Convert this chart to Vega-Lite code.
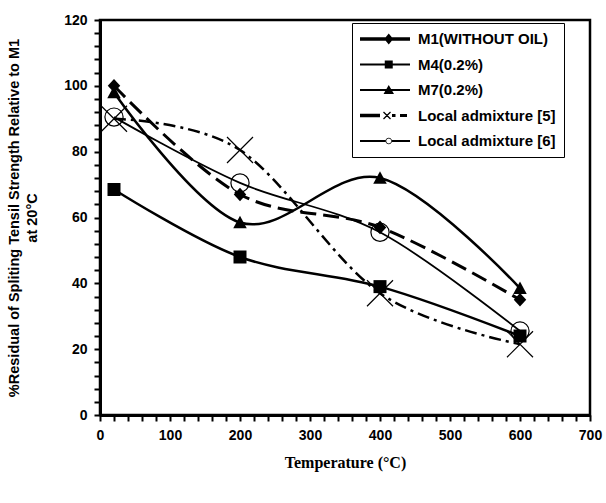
{
  "$schema": "https://vega.github.io/schema/vega-lite/v6.json",
  "width": 490,
  "height": 395,
  "autosize": {"type": "none"},
  "padding": {"left": 100, "top": 20, "right": 16, "bottom": 88},
  "background": "white",
  "config": {
    "view": {"stroke": "black", "strokeWidth": 2.5},
    "axis": {"grid": false, "ticks": true, "domainColor": "black", "domainWidth": 3, "tickColor": "black", "tickWidth": 2, "tickSize": 6, "labelColor": "black", "labelFont": "Liberation Sans", "labelFontWeight": "bold", "labelFontSize": 14, "labelOverlap": false, "labelFlush": false, "labelBound": false, "titleColor": "black"}
  },
  "data": {
    "values": [
      {"series": "M1(WITHOUT OIL)", "temp": 20, "value": 100},
      {"series": "M1(WITHOUT OIL)", "temp": 200, "value": 67},
      {"series": "M1(WITHOUT OIL)", "temp": 400, "value": 57},
      {"series": "M1(WITHOUT OIL)", "temp": 600, "value": 35},
      {"series": "M4(0.2%)", "temp": 20, "value": 68.5},
      {"series": "M4(0.2%)", "temp": 200, "value": 48},
      {"series": "M4(0.2%)", "temp": 400, "value": 39},
      {"series": "M4(0.2%)", "temp": 600, "value": 24},
      {"series": "M7(0.2%)", "temp": 20, "value": 98},
      {"series": "M7(0.2%)", "temp": 200, "value": 58.5},
      {"series": "M7(0.2%)", "temp": 400, "value": 72},
      {"series": "M7(0.2%)", "temp": 600, "value": 38.5},
      {"series": "Local admixture [5]", "temp": 20, "value": 90},
      {"series": "Local admixture [5]", "temp": 200, "value": 80.5},
      {"series": "Local admixture [5]", "temp": 400, "value": 37},
      {"series": "Local admixture [5]", "temp": 600, "value": 21.5},
      {"series": "Local admixture [6]", "temp": 20, "value": 90.5},
      {"series": "Local admixture [6]", "temp": 200, "value": 70.5},
      {"series": "Local admixture [6]", "temp": 400, "value": 55.5},
      {"series": "Local admixture [6]", "temp": 600, "value": 25.5}
    ]
  },
  "encoding": {
    "x": {
      "field": "temp", "type": "quantitative",
      "scale": {"domain": [0, 700], "nice": false, "zero": false},
      "axis": {
        "values": [0,20,40,60,80,100,120,140,160,180,200,220,240,260,280,300,320,340,360,380,400,420,440,460,480,500,520,540,560,580,600,620,640,660,680,700],
        "labelExpr": "datum.value % 100 === 0 ? datum.label : ''",
        "labelPadding": 7,
        "title": "Temperature (°C)",
        "titleFont": "Liberation Serif", "titleFontSize": 16, "titleFontWeight": "bold", "titlePadding": 12
      }
    },
    "y": {
      "field": "value", "type": "quantitative",
      "scale": {"domain": [0, 120], "nice": false},
      "axis": {
        "values": [0,4,8,12,16,20,24,28,32,36,40,44,48,52,56,60,64,68,72,76,80,84,88,92,96,100,104,108,112,116,120],
        "labelExpr": "datum.value % 20 === 0 ? datum.label : ''",
        "labelPadding": 7,
        "title": ["%Residual of Spliting Tensil Strength Relative to M1", "at 20°C"],
        "titleFont": "Liberation Sans", "titleFontSize": 14.5, "titleFontWeight": "bold", "titleLineHeight": 18, "titlePadding": 24
      }
    }
  },
  "resolve": {"scale": {"shape": "independent"}},
  "layer": [
    {
      "transform": [{"filter": "datum.series === 'M1(WITHOUT OIL)'"}],
      "mark": {"type": "line", "interpolate": "cardinal", "color": "black", "strokeWidth": 3, "strokeDash": [16, 7]},
      "encoding": {}
    },
    {
      "transform": [{"filter": "datum.series === 'M4(0.2%)' || datum.series === 'M7(0.2%)'"}],
      "mark": {"type": "line", "interpolate": "cardinal", "color": "black", "strokeWidth": 2.5},
      "encoding": {"detail": {"field": "series", "type": "nominal"}}
    },
    {
      "transform": [{"filter": "datum.series === 'Local admixture [5]'"}],
      "mark": {"type": "line", "interpolate": "cardinal", "color": "black", "strokeWidth": 2.5, "strokeDash": [12, 5, 3, 5]},
      "encoding": {}
    },
    {
      "transform": [{"filter": "datum.series === 'Local admixture [6]'"}],
      "mark": {"type": "line", "interpolate": "cardinal", "color": "black", "strokeWidth": 1.8},
      "encoding": {}
    },
    {
      "transform": [{"filter": "datum.series === 'M1(WITHOUT OIL)' || datum.series === 'M4(0.2%)' || datum.series === 'M7(0.2%)'"}],
      "mark": {"type": "point", "size": 676, "filled": true, "color": "black", "opacity": 1},
      "encoding": {
        "shape": {
          "field": "series", "type": "nominal",
          "scale": {"domain": ["M1(WITHOUT OIL)", "M4(0.2%)", "M7(0.2%)", "Local admixture [5]", "Local admixture [6]"], "range": ["M0,-0.52L0.48,0L0,0.52L-0.48,0Z", "M-0.5,-0.5H0.5V0.5H-0.5Z", "M0,-0.52L0.52,0.44H-0.52Z", "M-1,-1L1,1M-1,1L1,-1", "M-0.7,0A0.7,0.7,0,1,1,0.7,0A0.7,0.7,0,1,1,-0.7,0Z"]},
          "legend": null
        }
      }
    },
    {
      "transform": [{"filter": "datum.series === 'Local admixture [5]' || datum.series === 'Local admixture [6]'"}],
      "mark": {"type": "point", "size": 676, "filled": false, "color": "black", "strokeWidth": 1.2, "opacity": 1},
      "encoding": {
        "shape": {
          "field": "series", "type": "nominal",
          "scale": {"domain": ["M1(WITHOUT OIL)", "M4(0.2%)", "M7(0.2%)", "Local admixture [5]", "Local admixture [6]"], "range": ["M0,-0.52L0.48,0L0,0.52L-0.48,0Z", "M-0.5,-0.5H0.5V0.5H-0.5Z", "M0,-0.52L0.52,0.44H-0.52Z", "M-1,-1L1,1M-1,1L1,-1", "M-0.7,0A0.7,0.7,0,1,1,0.7,0A0.7,0.7,0,1,1,-0.7,0Z"]},
          "legend": null
        }
      }
    },
    {
      "transform": [{"filter": "datum.temp < 0"}],
      "mark": {"type": "point", "filled": true, "color": "black", "opacity": 1},
      "encoding": {
        "shape": {
          "field": "series", "type": "nominal",
          "scale": {
            "domain": ["M1(WITHOUT OIL)", "M4(0.2%)", "M7(0.2%)", "Local admixture [5]", "Local admixture [6]"],
            "range": [
              "M-1,-0.07H1V0.07H-1Z M0.15,-0.22L0.33,0L0.15,0.22L-0.03,0Z",
              "M-1,-0.04H1V0.04H-1Z M-0.01,-0.16H0.31V0.16H-0.01Z",
              "M-1,-0.04H1V0.04H-1Z M0.15,-0.2L0.36,0.16H-0.06Z",
              "M-1,-0.07H-0.2V0.07H-1Z M-0.078,-0.122L0.202,0.158L0.238,0.122L-0.042,-0.158Z M-0.042,0.158L0.238,-0.122L0.202,-0.158L-0.078,0.122Z M0.28,-0.06H0.42V0.06H0.28Z M0.6,-0.06H0.88V0.06H0.6Z",
              "M-1,-0.04H0.02V0.04H-1Z M0.28,-0.04H1V0.04H0.28Z M0.02,0A0.13,0.13,0,1,1,0.28,0A0.13,0.13,0,1,1,0.02,0Z M0.05,0A0.1,0.1,0,1,0,0.25,0A0.1,0.1,0,1,0,0.05,0Z"
            ]
          },
          "legend": {
            "title": null, "orient": "none", "legendX": 252, "legendY": 3,
            "strokeColor": "black", "fillColor": "white", "padding": 8,
            "symbolSize": 2500, "symbolStrokeWidth": 0, "symbolOpacity": 1, "symbolFillColor": "black",
            "clipHeight": 16, "rowPadding": 9.5,
            "labelFont": "Liberation Sans", "labelFontSize": 15, "labelFontWeight": "bold", "labelColor": "black", "labelOffset": 8
          }
        }
      }
    }
  ]
}
